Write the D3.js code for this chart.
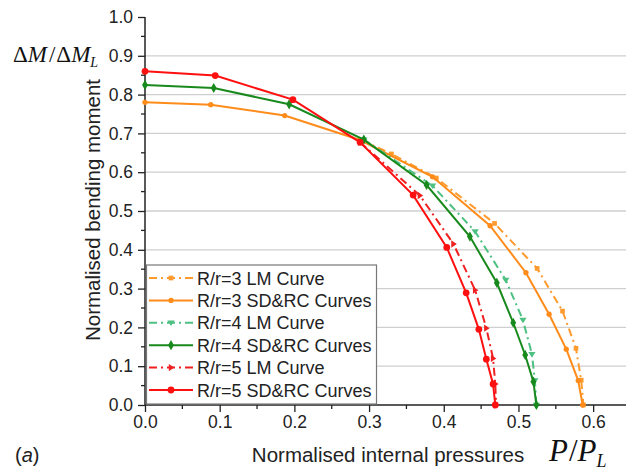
<!DOCTYPE html>
<html><head><meta charset="utf-8">
<script src="https://cdn.jsdelivr.net/npm/d3@7"></script>
<style>body{margin:0;background:#fff}svg{display:block}</style>
</head><body>
<script>
// ---- data ----
const xTicks = [0.0,0.1,0.2,0.3,0.4,0.5,0.6];
const yTicks = [0.0,0.1,0.2,0.3,0.4,0.5,0.6,0.7,0.8,0.9,1.0];
const r3LM_x = [0.290,0.330,0.390,0.468,0.525,0.559,0.577,0.584,0.587];
const r3LM_y = [0.683,0.647,0.585,0.468,0.352,0.242,0.146,0.064,0.000];
const r3SD_x = [0.000,0.088,0.187,0.288,0.385,0.462,0.510,0.541,0.564,0.580,0.586];
const r3SD_y = [0.780,0.774,0.746,0.683,0.588,0.462,0.341,0.234,0.144,0.063,0.000];
const r4LM_x = [0.293,0.385,0.442,0.483,0.506,0.518,0.522,0.524];
const r4LM_y = [0.684,0.565,0.447,0.322,0.219,0.131,0.063,0.000];
const r4SD_x = [0.000,0.092,0.193,0.293,0.377,0.435,0.471,0.493,0.509,0.520,0.524];
const r4SD_y = [0.825,0.817,0.775,0.684,0.567,0.434,0.315,0.212,0.129,0.060,0.000];
const r5LM_x = [0.288,0.368,0.413,0.442,0.457,0.466,0.469,0.470];
const r5LM_y = [0.677,0.540,0.415,0.296,0.198,0.120,0.054,0.000];
const r5SD_x = [0.000,0.094,0.198,0.288,0.359,0.404,0.430,0.447,0.457,0.466,0.469];
const r5SD_y = [0.860,0.849,0.787,0.677,0.541,0.406,0.289,0.195,0.118,0.054,0.000];
const seriesNames = ["R/r=3 LM Curve","R/r=3 SD&RC Curves","R/r=4 LM Curve","R/r=4 SD&RC Curves","R/r=5 LM Curve","R/r=5 SD&RC Curves"];

const series = [
  {name:seriesNames[0], xs:r3LM_x, ys:r3LM_y, color:"#FF9A2E", dash:"8,4,2,4", sym:d3.symbolSquare, size:22},
  {name:seriesNames[1], xs:r3SD_x, ys:r3SD_y, color:"#FF8C1A", dash:null, sym:d3.symbolCircle, size:22},
  {name:seriesNames[2], xs:r4LM_x, ys:r4LM_y, color:"#4DC082", dash:"8,4,2,4", sym:"tri-down", size:24},
  {name:seriesNames[3], xs:r4SD_x, ys:r4SD_y, color:"#18891C", dash:null, sym:d3.symbolDiamond, size:30},
  {name:seriesNames[4], xs:r5LM_x, ys:r5LM_y, color:"#F02020", dash:"8,4,2,4", sym:"tri-right", size:24},
  {name:seriesNames[5], xs:r5SD_x, ys:r5SD_y, color:"#FF1010", dash:null, sym:d3.symbolCircle, size:36},
];

const W=626,H=472;
const svg=d3.select("body").append("svg").attr("width",W).attr("height",H);
const x=d3.scaleLinear().domain([0,0.65]).range([145,630.5]);
const y=d3.scaleLinear().domain([0,1]).range([405,17]);

// grid
svg.append("g").selectAll("line").data(yTicks.filter(v=>v>0&&v<1)).join("line")
  .attr("x1",x(0)).attr("x2",W).attr("y1",d=>y(d)).attr("y2",d=>y(d))
  .attr("stroke","#cfcfcf").attr("stroke-width",1.3);

// axes
const font="'Liberation Sans', Arial, sans-serif";
const xAxis=d3.axisBottom(x).tickValues(xTicks).tickFormat(d3.format(".1f")).tickSize(7).tickPadding(4);
const gx=svg.append("g").attr("transform",`translate(0,${y(0)})`).call(xAxis);
gx.select(".domain").attr("stroke","#222").attr("stroke-width",1.5).attr("d",`M${x(0)},0H${W}`);
gx.selectAll(".tick line").attr("stroke","#222").attr("stroke-width",1.3);
gx.selectAll("text").attr("font-family",font).attr("font-size","17.5px").attr("fill","#222");
const xMinor=d3.range(0.05,0.65,0.1);
svg.append("g").selectAll("line").data(xMinor).join("line")
  .attr("x1",d=>x(d)).attr("x2",d=>x(d)).attr("y1",y(0)).attr("y2",y(0)+4)
  .attr("stroke","#222").attr("stroke-width",1.3);

const yAxis=d3.axisLeft(y).tickValues(yTicks).tickFormat(d3.format(".1f")).tickSize(7).tickPadding(5);
const gy=svg.append("g").attr("transform",`translate(${x(0)},0)`).call(yAxis);
gy.select(".domain").attr("stroke","#222").attr("stroke-width",1.5).attr("d",`M0,${y(1)}V${y(0)}`);
gy.selectAll(".tick line").attr("stroke","#222").attr("stroke-width",1.3);
gy.selectAll("text").attr("font-family",font).attr("font-size","17.5px").attr("fill","#222");
const yMinor=d3.range(0.05,1,0.1);
svg.append("g").selectAll("line").data(yMinor).join("line")
  .attr("x1",x(0)-4).attr("x2",x(0)).attr("y1",d=>y(d)).attr("y2",d=>y(d))
  .attr("stroke","#222").attr("stroke-width",1.3);

// symbols
function symPath(s,size){
  if(s==="tri-down"){const r=Math.sqrt(size)*0.75;return `M${-r},${-r*0.6}L${r},${-r*0.6}L0,${r*0.9}Z`;}
  if(s==="tri-right"){const r=Math.sqrt(size)*0.75;return `M${-r*0.6},${-r}L${r*0.9},0L${-r*0.6},${r}Z`;}
  return d3.symbol().type(s).size(size)();
}
const line=d3.line().x(d=>x(d[0])).y(d=>y(d[1]));
series.forEach(s=>{
  const pts=s.xs.map((v,i)=>[v,s.ys[i]]);
  const g=svg.append("g");
  g.append("path").attr("d",line(pts)).attr("fill","none").attr("stroke",s.color)
   .attr("stroke-width",2).attr("stroke-dasharray",s.dash);
  g.selectAll("path.m").data(pts).join("path").attr("class","m")
   .attr("transform",d=>`translate(${x(d[0])},${y(d[1])})`)
   .attr("d",symPath(s.sym,s.size)).attr("fill",s.color);
});

// legend
const lg=svg.append("g");
lg.append("rect").attr("x",x(0)+1.5).attr("y",265).attr("width",230).attr("height",y(0)-265-1)
  .attr("fill","#fff").attr("stroke","#777").attr("stroke-width",1.2);
series.forEach((s,i)=>{
  const cy=278+i*22.4;
  lg.append("line").attr("x1",149).attr("x2",193).attr("y1",cy).attr("y2",cy)
    .attr("stroke",s.color).attr("stroke-width",2).attr("stroke-dasharray",s.dash);
  lg.append("path").attr("transform",`translate(171,${cy})`).attr("d",symPath(s.sym,s.size)).attr("fill",s.color);
  lg.append("text").attr("x",197).attr("y",cy+6.5).text(s.name)
    .attr("font-family",font).attr("font-size","18px").attr("fill","#222");
});

// axis titles
svg.append("text").attr("x",388).attr("y",462).attr("text-anchor","middle")
  .attr("font-family",font).attr("font-size","20.5px").attr("fill","#222").text("Normalised internal pressures");
svg.append("text").attr("transform","translate(100,210) rotate(-90)").attr("text-anchor","middle")
  .attr("font-family",font).attr("font-size","20.5px").attr("fill","#222").text("Normalised bending moment");
const ca=svg.append("text").attr("x",15).attr("y",462).attr("font-family",font).attr("font-size","20px").attr("fill","#222");
ca.append("tspan").text("(");ca.append("tspan").attr("font-style","italic").text("a");ca.append("tspan").text(")");

const serif="'Liberation Serif','Times New Roman',serif";
const t1=svg.append("text").attr("x",13).attr("y",62).attr("font-family",serif).attr("font-size","23px").attr("fill","#111");
t1.append("tspan").text("Δ");t1.append("tspan").attr("font-style","italic").text("M");
t1.append("tspan").attr("dx",2).text("/");t1.append("tspan").attr("dx",1).text("Δ");t1.append("tspan").attr("font-style","italic").text("M");
t1.append("tspan").attr("font-style","italic").attr("font-size","14px").attr("dy",5).text("L");

const t2=svg.append("text").attr("x",549).attr("y",461).attr("font-family",serif).attr("font-size","31px").attr("fill","#111");
t2.append("tspan").attr("font-style","italic").text("P");
t2.append("tspan").attr("dx",1).text("/");t2.append("tspan").attr("font-style","italic").text("P");
t2.append("tspan").attr("font-style","italic").attr("font-size","18px").attr("dy",6).text("L");
</script>
</body></html>
